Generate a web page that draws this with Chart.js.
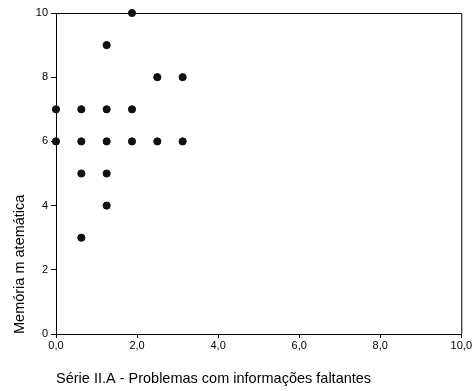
<!DOCTYPE html>
<html><head><meta charset="utf-8">
<script src="https://cdn.jsdelivr.net/npm/chart.js@4/dist/chart.umd.min.js"></script>
<style>html,body{margin:0;padding:0;background:#fff}#w{width:473px;height:391px}</style>
</head><body><div id="w"><canvas id="c"></canvas></div>
<script>
const xValues = [0, 0, 0.625, 0.625, 0.625, 0.625, 1.25, 1.25, 1.25, 1.25, 1.25, 1.875, 1.875, 1.875, 2.5, 2.5, 3.125, 3.125];
const yValues = [7, 6, 7, 6, 5, 3, 9, 7, 6, 5, 4, 10, 7, 6, 8, 6, 8, 6];
const xTicks = [0, 2, 4, 6, 8, 10];
const yTicks = [0, 2, 4, 6, 8, 10];
const xTitle = "Série II.A - Problemas com informações faltantes";
const yTitle = "Memória m atemática";

const points = xValues.map((x, i) => ({x, y: yValues[i]}));
const fam = "Liberation Sans, Arial, sans-serif";
const tickFont = {family: fam, size: 11};
const titleFont = {family: fam, size: 14.5};

const boxPlugin = {
  id: 'box',
  beforeDatasetsDraw(chart) {
    const a = chart.chartArea, ctx = chart.ctx;
    ctx.save();
    ctx.strokeStyle = '#000'; ctx.lineWidth = 1;
    ctx.beginPath();
    ctx.moveTo(a.left, a.top + 0.5); ctx.lineTo(a.right + 0.5, a.top + 0.5);
    ctx.lineTo(a.right + 0.5, a.bottom);
    ctx.stroke();
    ctx.restore();
  }
};

new Chart(document.getElementById('c'), {
  type: 'scatter',
  data: {datasets: [{data: points, backgroundColor: '#111', borderColor: '#111', pointRadius: 3.6, pointHoverRadius: 3.6, clip: false}]},
  options: {
    responsive: true, maintainAspectRatio: false, animation: false,
    layout: {padding: {left: 0, right: 10, top: 13, bottom: 0}},
    plugins: {legend: {display: false}, tooltip: {enabled: false}},
    scales: {
      x: {
        type: 'linear', min: 0, max: 10,
        afterBuildTicks: s => { s.ticks = xTicks.map(v => ({value: v})); },
        afterFit: s => { s.height = 57; },
        grid: {display: true, drawOnChartArea: false, drawTicks: true, tickLength: 4, color: '#000'},
        border: {display: true, color: '#000', width: 1},
        ticks: {color: '#000', font: tickFont, padding: 1, maxRotation: 0, callback: v => v.toFixed(1).replace('.', ',')},
        title: {display: true, text: xTitle, align: 'start', color: '#000', font: titleFont, padding: {top: 4, bottom: 3}}
      },
      y: {
        type: 'linear', min: 0, max: 10,
        afterBuildTicks: s => { s.ticks = yTicks.map(v => ({value: v})); },
        afterFit: s => { s.width = 56; },
        grid: {display: true, drawOnChartArea: false, drawTicks: true, tickLength: 5, color: '#000'},
        border: {display: true, color: '#000', width: 1},
        ticks: {color: '#000', font: tickFont, padding: 3, callback: v => String(v)},
        title: {display: true, text: yTitle, align: 'start', color: '#000', font: titleFont, padding: {top: 11, bottom: 0}}
      }
    }
  },
  plugins: [boxPlugin]
});
</script></body></html>
